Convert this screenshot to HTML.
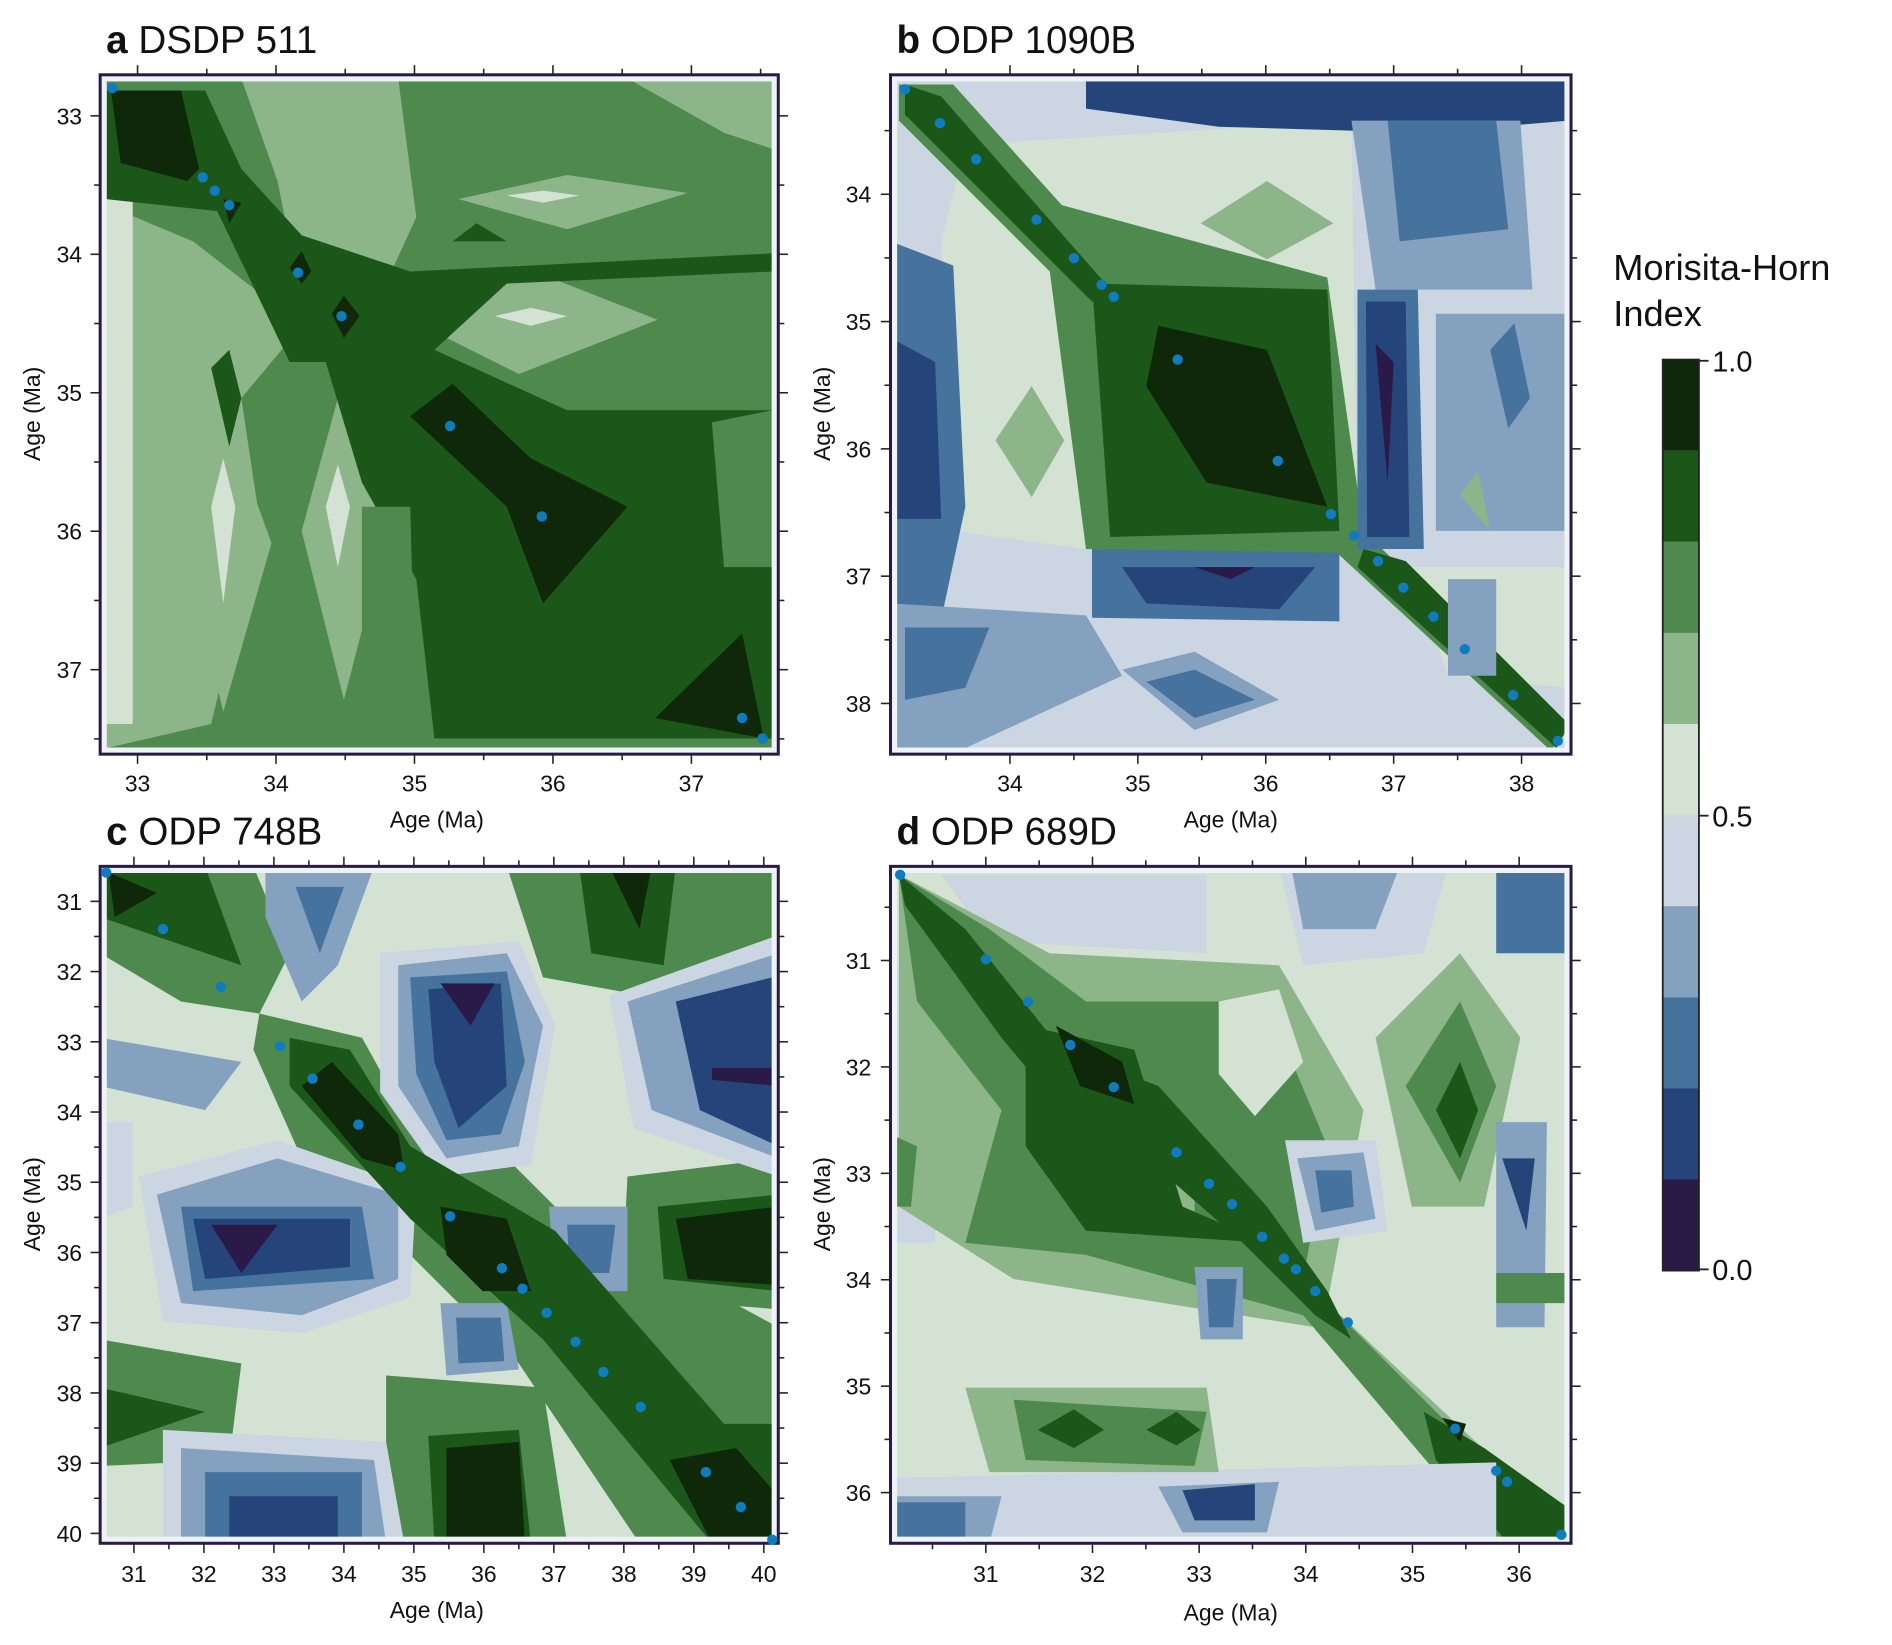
<!DOCTYPE html>
<html><head><meta charset="utf-8"><style>
html,body{margin:0;padding:0;background:#fff;}
svg{display:block;}
text{font-family:"Liberation Sans",Arial,sans-serif;fill:#111;}
</style></head><body>
<svg id="s" width="1892" height="1645" viewBox="0 0 1568 1363.3" xmlns="http://www.w3.org/2000/svg">
<defs>
<clipPath id="ca"><rect x="83" y="62" width="562" height="563"/></clipPath>
<clipPath id="cb"><rect x="738" y="62" width="564" height="563"/></clipPath>
<clipPath id="cc"><rect x="83" y="718" width="562" height="561"/></clipPath>
<clipPath id="cd"><rect x="738" y="718" width="564" height="561"/></clipPath>
</defs>

<!-- Panel a -->
<g clip-path="url(#ca)">
<rect x="83" y="62" width="562" height="563" fill="#4e8a4e"/>
<polygon fill="#8db58a" points="88,250 150,290 200,330 215,430 175,600 88,620"/>
<polygon fill="#8db58a" points="88,170 160,200 250,270 200,330 88,260"/>
<polygon fill="#8db58a" points="200,65 330,65 345,180 290,300 250,250 230,150"/>
<polygon fill="#8db58a" points="340,265 430,220 545,265 430,310"/>
<polygon fill="#8db58a" points="380,165 470,145 570,160 470,190"/>
<polygon fill="#8db58a" points="520,65 645,65 645,125 600,110"/>
<polygon fill="#8db58a" points="150,440 185,340 225,450 185,590"/>
<polygon fill="#8db58a" points="250,440 280,330 320,445 285,580"/>
<polygon fill="#d3e2d3" points="175,420 185,380 195,420 185,500"/>
<polygon fill="#d3e2d3" points="270,420 280,385 290,420 280,470"/>
<polygon fill="#d3e2d3" points="410,262 440,255 470,262 440,270"/>
<polygon fill="#d3e2d3" points="420,162 450,158 480,162 450,168"/>
<polygon fill="#d3e2d3" points="88,75 110,75 110,600 88,600"/>
<polygon fill="#1b5718" points="88,75 170,75 200,140 250,195 340,225 640,210 640,225 420,235 360,290 470,340 640,340 640,612 360,612 345,480 300,400 270,300 240,300 180,175 88,165"/>
<polygon fill="#4e8a4e" points="590,350 640,340 640,470 600,470"/>
<polygon fill="#4e8a4e" points="300,420 340,420 345,612 300,612"/>
<polygon fill="#1b5718" points="175,305 190,290 200,330 190,370"/>
<polygon fill="#1b5718" points="375,200 395,185 420,200"/>
<polygon fill="#10280a" points="92,75 150,75 165,140 155,150 100,135"/>
<polygon fill="#10280a" points="340,345 375,318 440,380 520,420 450,500 420,420"/>
<polygon fill="#10280a" points="543,595 615,525 633,612"/>
<polygon fill="#10280a" points="240,222 250,208 258,225 250,235"/>
<polygon fill="#10280a" points="275,260 285,245 298,262 285,280"/>
<polygon fill="#10280a" points="185,165 200,168 190,185"/>
</g>

<!-- Panel b -->
<g clip-path="url(#cb)">
<rect x="738" y="62" width="564" height="563" fill="#cbd6e2"/>
<polygon fill="#d3e2d3" points="800,120 1120,100 1125,450 900,455 790,440 780,200"/>
<polygon fill="#d3e2d3" points="1170,470 1300,470 1300,570 1200,560"/>
<polygon fill="#8db58a" points="995,185 1050,150 1105,185 1050,215"/>
<polygon fill="#8db58a" points="825,365 855,320 882,365 855,412"/>
<polygon fill="#4e8a4e" points="745,70 790,70 880,170 1100,230 1130,440 1300,605 1285,622 1110,460 900,455 870,225 745,100"/>
<polygon fill="#1b5718" points="905,235 1100,240 1110,440 920,445"/>
<polygon fill="#1b5718" points="750,70 780,80 925,245 905,250 750,95"/>
<polygon fill="#1b5718" points="1130,455 1165,465 1300,600 1290,620 1125,470"/>
<polygon fill="#10280a" points="960,270 1050,290 1100,420 1000,400 950,320"/>
<polygon fill="#46739e" points="738,200 790,220 800,420 770,560 738,560"/>
<polygon fill="#25457a" points="738,280 775,300 780,430 738,430"/>
<polygon fill="#84a2bf" points="738,500 900,510 930,560 800,620 738,620"/>
<polygon fill="#46739e" points="750,520 820,520 800,570 750,580"/>
<polygon fill="#25457a" points="900,62 1300,62 1300,100 1180,110 1010,105 900,90"/>
<polygon fill="#84a2bf" points="1120,100 1260,100 1270,240 1140,240"/>
<polygon fill="#46739e" points="1150,100 1240,100 1250,190 1160,200"/>
<polygon fill="#46739e" points="1125,240 1175,240 1180,455 1125,455"/>
<polygon fill="#25457a" points="1132,250 1165,250 1168,445 1133,445"/>
<polygon fill="#291a48" points="1140,285 1155,300 1150,400"/>
<polygon fill="#46739e" points="905,455 1110,458 1110,515 905,512"/>
<polygon fill="#25457a" points="930,470 1090,470 1060,505 950,500"/>
<polygon fill="#291a48" points="990,470 1040,470 1020,480"/>
<polygon fill="#84a2bf" points="930,555 990,540 1060,580 990,605"/>
<polygon fill="#46739e" points="950,565 990,555 1040,580 990,595"/>
<polygon fill="#84a2bf" points="1190,260 1300,260 1300,440 1190,440"/>
<polygon fill="#46739e" points="1235,290 1255,268 1268,330 1250,355"/>
<polygon fill="#84a2bf" points="1200,480 1240,480 1240,560 1200,560"/>
<polygon fill="#8db58a" points="1210,410 1225,390 1235,440"/>
</g>

<!-- Panel c -->
<g clip-path="url(#cc)">
<rect x="83" y="718" width="562" height="561" fill="#d3e2d3"/>
<polygon fill="#4e8a4e" points="83,718 210,718 240,790 215,840 150,830 83,790"/>
<polygon fill="#4e8a4e" points="420,718 645,718 645,800 560,830 450,810"/>
<polygon fill="#4e8a4e" points="215,840 300,860 350,950 420,960 460,1000 645,1100 645,1279 530,1279 430,1130 330,1030 250,960 210,870"/>
<polygon fill="#4e8a4e" points="83,1110 200,1130 190,1210 83,1215"/>
<polygon fill="#4e8a4e" points="320,1140 450,1150 470,1279 320,1279"/>
<polygon fill="#4e8a4e" points="520,975 645,960 645,1085 515,1075"/>
<polygon fill="#cbd6e2" points="115,975 230,945 345,985 340,1075 250,1105 135,1095"/>
<polygon fill="#84a2bf" points="130,990 230,960 330,990 330,1060 250,1090 150,1080"/>
<polygon fill="#46739e" points="150,1000 300,1000 310,1060 160,1070"/>
<polygon fill="#25457a" points="160,1010 290,1010 290,1050 170,1060"/>
<polygon fill="#291a48" points="175,1015 230,1015 200,1055"/>
<polygon fill="#cbd6e2" points="315,790 430,780 460,850 440,965 365,975 315,905"/>
<polygon fill="#84a2bf" points="330,800 420,790 450,850 430,950 370,960 330,900"/>
<polygon fill="#46739e" points="340,810 420,805 435,880 415,940 370,945 345,890"/>
<polygon fill="#25457a" points="355,820 415,815 420,900 380,935 360,880"/>
<polygon fill="#291a48" points="365,815 410,815 390,850"/>
<polygon fill="#cbd6e2" points="505,825 645,775 645,975 525,935"/>
<polygon fill="#84a2bf" points="520,830 645,790 645,960 540,920"/>
<polygon fill="#25457a" points="560,830 640,810 645,950 580,920"/>
<polygon fill="#291a48" points="590,885 645,885 645,900 590,895"/>
<polygon fill="#cbd6e2" points="135,1185 320,1195 335,1279 135,1279"/>
<polygon fill="#84a2bf" points="150,1200 310,1210 320,1279 150,1279"/>
<polygon fill="#46739e" points="170,1220 300,1220 300,1279 170,1279"/>
<polygon fill="#25457a" points="190,1240 280,1240 280,1279 190,1279"/>
<polygon fill="#84a2bf" points="365,1080 420,1080 430,1135 370,1140"/>
<polygon fill="#46739e" points="378,1092 415,1092 418,1128 380,1130"/>
<polygon fill="#84a2bf" points="455,1000 520,1000 520,1070 460,1070"/>
<polygon fill="#46739e" points="470,1015 510,1015 505,1055 472,1055"/>
<polygon fill="#84a2bf" points="220,718 310,718 280,800 250,830 220,760"/>
<polygon fill="#46739e" points="245,735 285,735 265,790"/>
<polygon fill="#84a2bf" points="83,860 200,880 170,920 83,900"/>
<polygon fill="#cbd6e2" points="83,930 110,930 110,1000 83,1010"/>
<polygon fill="#1b5718" points="83,718 170,718 200,800 83,760"/>
<polygon fill="#1b5718" points="240,860 290,870 340,950 460,1020 600,1180 645,1180 645,1279 590,1279 450,1110 340,1010 240,900"/>
<polygon fill="#1b5718" points="545,1000 645,990 645,1070 550,1060"/>
<polygon fill="#1b5718" points="480,718 560,718 550,800 490,790"/>
<polygon fill="#1b5718" points="355,1190 430,1185 440,1279 360,1279"/>
<polygon fill="#1b5718" points="83,1150 170,1170 83,1200"/>
<polygon fill="#10280a" points="250,900 275,880 330,940 335,970 300,960"/>
<polygon fill="#10280a" points="365,1000 420,1010 440,1070 400,1070 370,1040"/>
<polygon fill="#10280a" points="560,1010 645,1000 645,1065 570,1060"/>
<polygon fill="#10280a" points="370,1200 430,1195 435,1279 370,1279"/>
<polygon fill="#10280a" points="555,1210 610,1200 645,1240 645,1279 590,1279"/>
<polygon fill="#10280a" points="505,718 540,718 530,770"/>
<polygon fill="#10280a" points="90,723 130,740 95,760"/>
</g>

<!-- Panel d -->
<g clip-path="url(#cd)">
<rect x="738" y="718" width="564" height="561" fill="#d3e2d3"/>
<polygon fill="#cbd6e2" points="738,800 775,800 775,1030 738,1030"/>
<polygon fill="#cbd6e2" points="780,725 1000,725 1000,790 820,780"/>
<polygon fill="#8db58a" points="745,725 870,790 1060,800 1130,920 1100,1080 1250,1220 1300,1279 1260,1279 1090,1100 840,1060 745,1000"/>
<polygon fill="#4e8a4e" points="745,725 820,770 900,830 1050,830 1100,950 1080,1060 1250,1230 1280,1279 1240,1279 1080,1090 900,1040 800,1030 830,920 760,830"/>
<polygon fill="#8db58a" points="930,960 990,960 990,1010 950,1020"/>
<polygon fill="#d3e2d3" points="1010,830 1060,820 1080,880 1040,925 1010,890"/>
<polygon fill="#1b5718" points="745,725 800,770 880,870 960,900 1050,1000 1100,1070 1120,1110 1090,1090 1030,1030 950,960 880,920 830,860 750,750"/>
<polygon fill="#1b5718" points="850,850 940,870 980,1000 1050,1030 900,1020 850,950"/>
<polygon fill="#1b5718" points="1180,1170 1230,1200 1300,1250 1300,1279 1250,1279 1190,1210"/>
<polygon fill="#10280a" points="875,850 930,880 940,915 895,900"/>
<polygon fill="#10280a" points="1195,1175 1215,1180 1210,1195"/>
<polygon fill="#8db58a" points="1140,860 1210,790 1260,860 1230,1000 1170,1000"/>
<polygon fill="#4e8a4e" points="1165,900 1210,830 1240,900 1210,980"/>
<polygon fill="#1b5718" points="1190,920 1210,880 1225,920 1210,960"/>
<polygon fill="#46739e" points="1240,718 1302,718 1302,790 1240,790"/>
<polygon fill="#84a2bf" points="1240,930 1282,930 1280,1100 1240,1100"/>
<polygon fill="#25457a" points="1245,960 1272,960 1265,1020"/>
<polygon fill="#4e8a4e" points="1240,1055 1300,1055 1300,1080 1240,1080"/>
<polygon fill="#cbd6e2" points="1060,718 1200,718 1180,790 1080,800"/>
<polygon fill="#84a2bf" points="1070,718 1160,718 1140,770 1080,770"/>
<polygon fill="#cbd6e2" points="738,1225 1240,1212 1240,1279 738,1279"/>
<polygon fill="#84a2bf" points="738,1240 830,1240 820,1279 738,1279"/>
<polygon fill="#46739e" points="740,1245 800,1245 800,1279 740,1279"/>
<polygon fill="#84a2bf" points="960,1232 1060,1228 1050,1270 980,1270"/>
<polygon fill="#25457a" points="980,1235 1040,1230 1040,1260 990,1260"/>
<polygon fill="#cbd6e2" points="1065,945 1140,945 1150,1020 1080,1030"/>
<polygon fill="#84a2bf" points="1075,960 1130,955 1140,1010 1090,1020"/>
<polygon fill="#46739e" points="1090,970 1120,970 1122,1000 1095,1005"/>
<polygon fill="#84a2bf" points="990,1050 1030,1050 1030,1110 995,1110"/>
<polygon fill="#46739e" points="1000,1060 1025,1060 1022,1100 1002,1100"/>
<polygon fill="#8db58a" points="800,1150 1000,1150 1010,1220 820,1220"/>
<polygon fill="#4e8a4e" points="840,1160 1000,1170 990,1215 850,1210"/>
<polygon fill="#1b5718" points="860,1185 890,1168 915,1185 890,1200"/>
<polygon fill="#1b5718" points="950,1185 975,1170 995,1185 975,1198"/>
<polygon fill="#4e8a4e" points="738,940 760,950 755,1000 738,1000"/>
</g>

<g id="frames" fill="none">
<rect x="86" y="65" width="556" height="557" stroke="#eef3f5" stroke-width="5"/>
<rect x="83" y="62" width="562" height="563" stroke="#291a48" stroke-width="2.5"/>
<rect x="741" y="65" width="558" height="557" stroke="#eef3f5" stroke-width="5"/>
<rect x="738" y="62" width="564" height="563" stroke="#291a48" stroke-width="2.5"/>
<rect x="86" y="721" width="556" height="555" stroke="#eef3f5" stroke-width="5"/>
<rect x="83" y="718" width="562" height="561" stroke="#291a48" stroke-width="2.5"/>
<rect x="741" y="721" width="558" height="555" stroke="#eef3f5" stroke-width="5"/>
<rect x="738" y="718" width="564" height="561" stroke="#291a48" stroke-width="2.5"/>
</g>
<g id="ticks" stroke="#222" stroke-width="1.3"></g>
<g id="dots" fill="#0f7cc0"></g>

<!-- titles -->
<text x="88" y="44" font-size="32"><tspan font-weight="bold">a</tspan> DSDP 511</text>
<text x="743" y="44" font-size="32"><tspan font-weight="bold">b</tspan> ODP 1090B</text>
<text x="88" y="700" font-size="32"><tspan font-weight="bold">c</tspan> ODP 748B</text>
<text x="743" y="700" font-size="32"><tspan font-weight="bold">d</tspan> ODP 689D</text>

<g font-size="19" text-anchor="middle">
<text x="114" y="656">33</text><text x="228.75" y="656">34</text><text x="343.5" y="656">35</text><text x="458.25" y="656">36</text><text x="573" y="656">37</text>
<text x="837" y="656">34</text><text x="943" y="656">35</text><text x="1049" y="656">36</text><text x="1155" y="656">37</text><text x="1261" y="656">38</text>
<text x="111" y="1311">31</text><text x="169" y="1311">32</text><text x="227" y="1311">33</text><text x="285" y="1311">34</text><text x="343" y="1311">35</text><text x="401" y="1311">36</text><text x="459" y="1311">37</text><text x="517" y="1311">38</text><text x="575" y="1311">39</text><text x="633" y="1311">40</text>
<text x="817" y="1311">31</text><text x="905.4" y="1311">32</text><text x="993.8" y="1311">33</text><text x="1082.2" y="1311">34</text><text x="1170.6" y="1311">35</text><text x="1259" y="1311">36</text>
<text x="362" y="686">Age (Ma)</text>
<text x="1020" y="686">Age (Ma)</text>
<text x="362" y="1341">Age (Ma)</text>
<text x="1020" y="1343">Age (Ma)</text>
</g>
<g font-size="19" text-anchor="end">
<text x="68" y="103">33</text><text x="68" y="217.75">34</text><text x="68" y="332.5">35</text><text x="68" y="447.25">36</text><text x="68" y="562">37</text>
<text x="722" y="168">34</text><text x="722" y="273.5">35</text><text x="722" y="379">36</text><text x="722" y="484.5">37</text><text x="722" y="590">38</text>
<text x="68" y="754">31</text><text x="68" y="812.2">32</text><text x="68" y="870.4">33</text><text x="68" y="928.6">34</text><text x="68" y="986.8">35</text><text x="68" y="1045">36</text><text x="68" y="1103.2">37</text><text x="68" y="1161.4">38</text><text x="68" y="1219.6">39</text><text x="68" y="1277.8">40</text>
<text x="722" y="803">31</text><text x="722" y="891.2">32</text><text x="722" y="979.4">33</text><text x="722" y="1067.6">34</text><text x="722" y="1155.8">35</text><text x="722" y="1244">36</text>
</g>
<g font-size="19" text-anchor="middle">
<text transform="translate(33,343) rotate(-90)">Age (Ma)</text>
<text transform="translate(688,343) rotate(-90)">Age (Ma)</text>
<text transform="translate(33,998) rotate(-90)">Age (Ma)</text>
<text transform="translate(688,998) rotate(-90)">Age (Ma)</text>
</g>

<!-- colorbar -->
<text x="1337" y="232" font-size="30">Morisita-Horn</text>
<text x="1337" y="270" font-size="30">Index</text>
<g>
<rect x="1378" y="298.0" width="30" height="75.6" fill="#10280a"/>
<rect x="1378" y="373.5" width="30" height="75.6" fill="#1b5718"/>
<rect x="1378" y="449.0" width="30" height="75.6" fill="#4e8a4e"/>
<rect x="1378" y="524.5" width="30" height="75.6" fill="#8db58a"/>
<rect x="1378" y="600.0" width="30" height="75.6" fill="#d3e2d3"/>
<rect x="1378" y="675.5" width="30" height="75.6" fill="#cbd6e2"/>
<rect x="1378" y="751.0" width="30" height="75.6" fill="#84a2bf"/>
<rect x="1378" y="826.5" width="30" height="75.6" fill="#46739e"/>
<rect x="1378" y="902.0" width="30" height="75.6" fill="#25457a"/>
<rect x="1378" y="977.5" width="30" height="75.5" fill="#291a48"/>
<rect x="1378" y="298" width="30" height="755" fill="none" stroke="#222" stroke-width="1.5"/>
<line x1="1408" y1="299" x2="1416" y2="299" stroke="#222" stroke-width="1.5"/>
<line x1="1408" y1="676" x2="1416" y2="676" stroke="#222" stroke-width="1.5"/>
<line x1="1408" y1="1052" x2="1416" y2="1052" stroke="#222" stroke-width="1.5"/>
<text x="1419" y="308" font-size="24">1.0</text>
<text x="1419" y="685" font-size="24">0.5</text>
<text x="1419" y="1061" font-size="24">0.0</text>
</g>
</svg>
<script>
(function(){
var NS="http://www.w3.org/2000/svg";
var tg=document.getElementById("ticks"),dg=document.getElementById("dots");
function ln(x1,y1,x2,y2){var l=document.createElementNS(NS,"line");l.setAttribute("x1",x1);l.setAttribute("y1",y1);l.setAttribute("x2",x2);l.setAttribute("y2",y2);tg.appendChild(l);}
function panel(x0,x1,y0,y1,xv,xp,xs,yv,yp,ys){
  for(var k=-40;k<=40;k++){
    var v=xv+k*0.5, p=xp+(v-xv)*xs; if(p<x0+2||p>x1-2)continue;
    var L=(k%2===0)?8:5;
    ln(p,y1,p,y1+L);ln(p,y0,p,y0-L);
  }
  for(var k=-40;k<=40;k++){
    var v=yv+k*0.5, p=yp+(v-yv)*ys; if(p<y0+2||p>y1-2)continue;
    var L=(k%2===0)?8:5;
    ln(x0,p,x0-L,p);ln(x1,p,x1+L,p);
  }
}
panel(83,645,62,625,33,114,114.75,33,96,114.75);
panel(738,1302,62,625,35,943,106,34,161,105.5);
panel(83,645,718,1279,31,111,58,31,747,58.2);
panel(738,1302,718,1279,31,817,88.4,31,796,88.2);
var d=[[93,73],[168,147],[178,158],[190,170],[247,226],[283,262],[373,353],[449,428],[615,595],[632,612],
[750,74],[779,102],[809,132],[859,182],[890,214],[913,236],[923,246],[976,298],[1059,382],[1103,426],[1122,444],[1142,465],[1163,487],[1188,511],[1214,538],[1254,576],[1291,614],
[88,723],[135,770],[183,818],[232,867],[259,894],[297,932],[332,967],[373,1008],[416,1051],[433,1068],[453,1088],[477,1112],[500,1137],[531,1166],[585,1220],[614,1249],[640,1276],
[746,725],[817,795],[852,830],[887,866],[923,901],[975,955],[1002,981],[1021,998],[1046,1025],[1064,1043],[1074,1052],[1090,1070],[1117,1096],[1206,1184],[1240,1219],[1249,1228],[1294,1272]];
d.forEach(function(q){var c=document.createElementNS(NS,"circle");c.setAttribute("cx",q[0]);c.setAttribute("cy",q[1]);c.setAttribute("r",4.3);dg.appendChild(c);});
})();
</script>
</body></html>
